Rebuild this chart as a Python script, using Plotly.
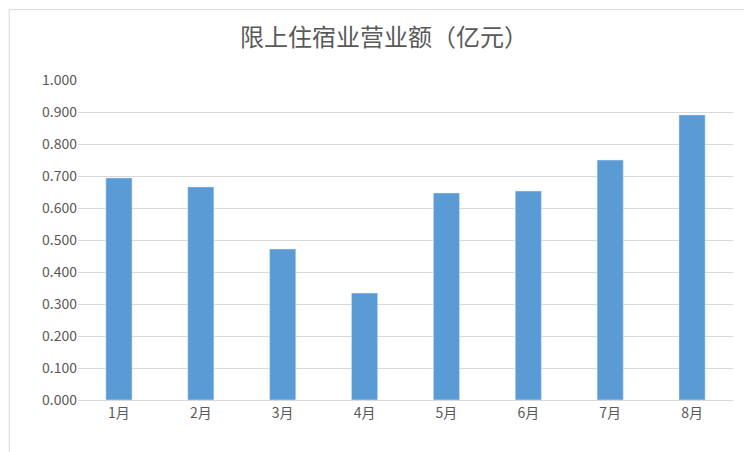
import plotly.graph_objects as go

months = ["1月", "2月", "3月", "4月", "5月", "6月", "7月", "8月"]
values = [0.694, 0.666, 0.472, 0.334, 0.647, 0.653, 0.750, 0.891]
yticks = [i / 10 for i in range(11)]

fig = go.Figure(go.Bar(x=months, y=values, marker_color="#5B9BD5", width=0.32))
fig.update_layout(
    width=752, height=452, paper_bgcolor="white", plot_bgcolor="white",
    margin=dict(l=70, r=27, t=72, b=60),
    title=dict(text="限上住宿业营业额（亿元）", x=0.5, y=0.935, xanchor="center", yanchor="middle",
               font=dict(family="Noto Sans CJK SC", size=24, color="#595959")),
    font=dict(family="Noto Sans CJK SC", size=14, color="#595959"),
    showlegend=False,
    shapes=[dict(type="rect", xref="paper", yref="paper", x0=-0.105, x1=1.038, y0=-0.17, y1=1.22,
                 line=dict(color="#D9D9D9", width=1))],
)
fig.update_yaxes(range=[0, 1.0], tickvals=yticks, tickformat=".3f", gridcolor="#D9D9D9",
                 zeroline=False, showline=False, ticks="", ticklen=8, tickcolor="white")
fig.update_xaxes(showline=True, linecolor="#D9D9D9", ticks="", tickfont=dict(size=14))
fig.write_html("out.html")
